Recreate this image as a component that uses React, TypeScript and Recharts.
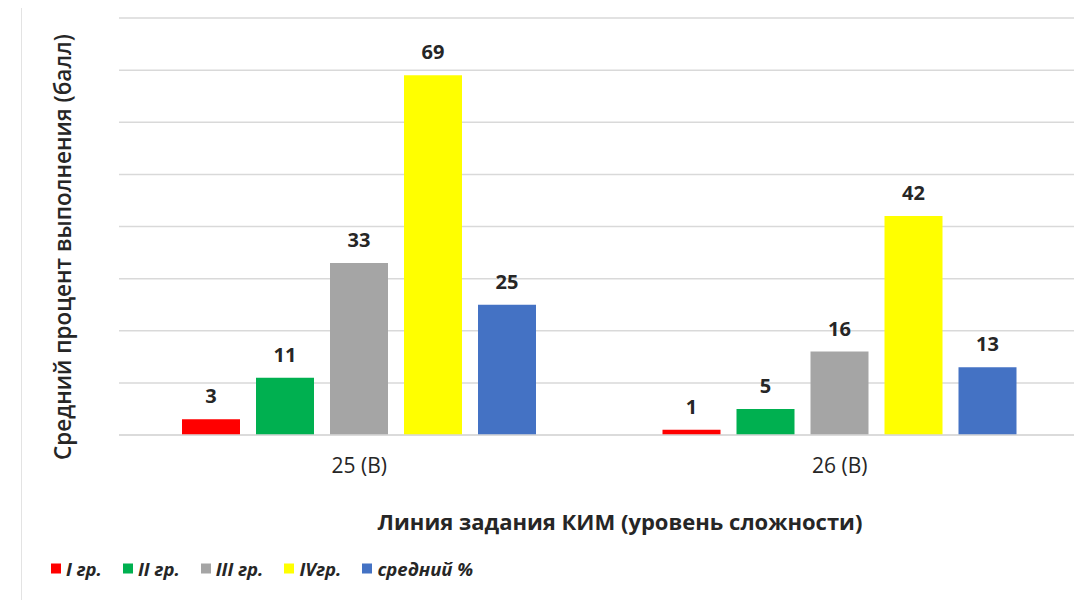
import { BarChart, Bar, XAxis, YAxis, CartesianGrid, LabelList } from "recharts";

// ---------------------------------------------------------------------------
// Data
// ---------------------------------------------------------------------------
const categories = ["25 (В)", "26 (В)"];
const group1 = [3, 1];
const group2 = [11, 5];
const group3 = [33, 16];
const group4 = [69, 42];
const average = [25, 13];
const yTicks = [0, 10, 20, 30, 40, 50, 60, 70, 80];

const series = [
  { key: "g1", name: "I гр.", color: "#FF0000" },
  { key: "g2", name: "II гр.", color: "#00B050" },
  { key: "g3", name: "III гр.", color: "#A5A5A5" },
  { key: "g4", name: "IVгр.", color: "#FFFF00" },
  { key: "avg", name: "средний %", color: "#4472C4" },
];

const chartData = categories.map((c, i) => ({
  name: c,
  g1: group1[i],
  g2: group2[i],
  g3: group3[i],
  g4: group4[i],
  avg: average[i],
}));

const FONT = "'Open Sans', 'DejaVu Sans', sans-serif";

export default function App() {
  return (
    <div
      style={{
        position: "absolute",
        left: 0,
        top: 0,
        width: 1074,
        height: 600,
        overflow: "hidden",
        background: "#fff",
        fontFamily: FONT,
      }}
    >
      {/* faint ruler line on the left */}
      <div
        style={{
          position: "absolute",
          left: 21,
          top: 8,
          width: 0,
          height: 592,
          borderLeft: "1px solid #e3e3e3",
        }}
      />

      <BarChart
        width={1090}
        height={600}
        data={chartData}
        margin={{ top: 18, right: 10, left: 119, bottom: 135 }}
        barSize={58}
        barGap={16}
        style={{ position: "absolute", left: 0, top: 0 }}
      >
        <CartesianGrid vertical={false} stroke="#D9D9D9" strokeWidth={1.5} />
        <XAxis
          dataKey="name"
          height={30}
          tickLine={false}
          axisLine={{ stroke: "#D9D9D9", strokeWidth: 1.5 }}
          tickMargin={17}
          tick={{ fontSize: 21, fill: "#262626", fontFamily: FONT }}
        />
        <YAxis hide width={0} domain={[0, 80]} ticks={yTicks} />
        {series.map((s) => (
          <Bar
            key={s.key}
            dataKey={s.key}
            name={s.name}
            fill={s.color}
            isAnimationActive={false}
          >
            <LabelList
              dataKey={s.key}
              position="top"
              offset={16}
              style={{
                fontSize: 20,
                fontWeight: 700,
                fill: "#262626",
                fontFamily: FONT,
              }}
            />
          </Bar>
        ))}
      </BarChart>

      {/* Y axis title */}
      <div
        style={{
          position: "absolute",
          left: 62,
          top: 247,
          transform: "translate(-50%, -50%) rotate(-90deg)",
          whiteSpace: "nowrap",
          fontSize: 22.5,
          fontWeight: 600,
          color: "#262626",
        }}
      >
        Средний процент выполнения (балл)
      </div>

      {/* X axis title */}
      <div
        style={{
          position: "absolute",
          left: 620,
          top: 521,
          transform: "translate(-50%, -50%)",
          whiteSpace: "nowrap",
          fontSize: 22,
          fontWeight: 700,
          color: "#262626",
        }}
      >
        Линия задания КИМ (уровень сложности)
      </div>

      {/* Legend */}
      <div
        style={{
          position: "absolute",
          left: 51,
          top: 568,
          transform: "translateY(-50%)",
          display: "flex",
          alignItems: "center",
          gap: 21,
          whiteSpace: "nowrap",
        }}
      >
        {series.map((s) => (
          <div key={s.key} style={{ display: "flex", alignItems: "center", gap: 5 }}>
            <span style={{ width: 10, height: 10, background: s.color, display: "inline-block" }} />
            <span
              style={{
                fontSize: 18.5,
                fontWeight: 700,
                fontStyle: "italic",
                color: "#262626",
              }}
            >
              {s.name}
            </span>
          </div>
        ))}
      </div>
    </div>
  );
}
